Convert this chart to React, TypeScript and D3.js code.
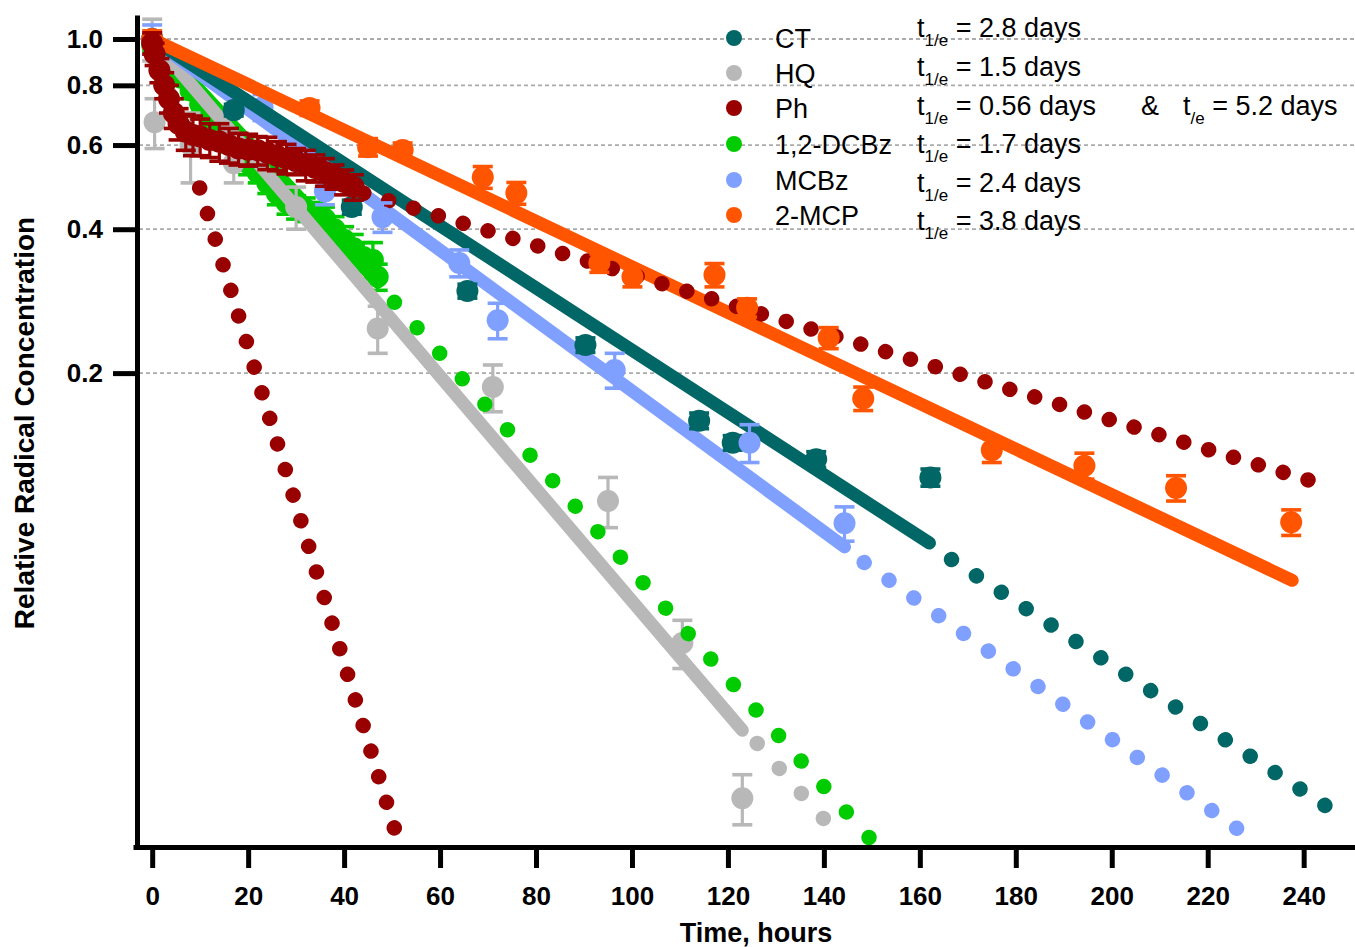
import React, { useEffect, useRef } from 'react';
import * as d3 from 'd3';

// measured points: [time h, relative conc, error]
const ctPoints = [
  [0, 1.0, 0.02], [17, 0.71, 0.02], [41.6, 0.445, 0.015], [65.7, 0.297, 0.01],
  [90.3, 0.229, 0.008], [114, 0.159, 0.006], [121, 0.143, 0.005],
  [138.4, 0.132, 0.005], [162.2, 0.121, 0.005],
];
const hqPoints = [
  [0, 1.0, 0.1], [0.5, 0.67, 0.08], [8, 0.6, 0.1], [17, 0.55, 0.05],
  [30, 0.445, 0.045], [47, 0.248, 0.028], [71, 0.187, 0.021],
  [95, 0.108, 0.013], [110.5, 0.0545, 0.0063], [123, 0.0258, 0.0031],
];
const phPoints = [
  [0, 0.98, 0.05], [0.5, 0.93, 0.05], [1.5, 0.86, 0.05], [2.5, 0.8, 0.05],
  [3.5, 0.75, 0.05], [4.5, 0.7, 0.05], [5.5, 0.665, 0.05], [7, 0.64, 0.055],
  [8.5, 0.63, 0.06], [10, 0.625, 0.055], [12, 0.615, 0.05], [14, 0.61, 0.055],
  [16, 0.6, 0.05], [18, 0.59, 0.045], [20, 0.587, 0.045], [22, 0.585, 0.04],
  [24, 0.578, 0.045], [26, 0.57, 0.04], [28, 0.562, 0.04], [30, 0.555, 0.035],
  [32, 0.545, 0.04], [34, 0.537, 0.035], [36, 0.527, 0.035], [38, 0.515, 0.03],
  [40, 0.502, 0.03], [42, 0.49, 0.03],
];
const dcbzPoints = [
  [0, 0.97, 0.03], [2, 0.93, 0.03], [4, 0.88, 0.03], [6, 0.83, 0.03],
  [8, 0.78, 0.03], [10, 0.73, 0.03], [12, 0.68, 0.03], [14, 0.645, 0.03],
  [16, 0.61, 0.03], [18, 0.58, 0.03], [20, 0.55, 0.03], [22, 0.525, 0.025],
  [24, 0.5, 0.025], [26, 0.475, 0.025], [28, 0.455, 0.025], [30, 0.445, 0.025],
  [32, 0.44, 0.025], [34, 0.43, 0.025], [36, 0.42, 0.025], [38, 0.4, 0.025],
  [40, 0.38, 0.025], [42, 0.365, 0.025], [44, 0.35, 0.025], [46, 0.345, 0.03],
  [47, 0.318, 0.02],
];
const mcbzPoints = [
  [0, 1.0, 0.07], [23, 0.72, 0.045], [36, 0.48, 0.03], [48, 0.424, 0.03],
  [64, 0.34, 0.022], [72, 0.258, 0.022], [96.4, 0.203, 0.017],
  [124.5, 0.143, 0.013], [144.3, 0.097, 0.008],
];
const mcpPoints = [
  [0, 1.0, 0.04], [32.8, 0.717, 0.025], [45, 0.594, 0.025], [52.2, 0.586, 0.02],
  [68.9, 0.514, 0.027], [75.9, 0.476, 0.025], [93.2, 0.34, 0.015],
  [100.1, 0.318, 0.015], [117.2, 0.321, 0.018], [124, 0.274, 0.012],
  [141, 0.237, 0.012], [148.2, 0.177, 0.01], [175, 0.138, 0.008],
  [194.3, 0.128, 0.008], [213.4, 0.115, 0.007], [237.4, 0.0975, 0.006],
];

// fitted decays (solid) and their extrapolations (dotted): [t, C] end points
const ctFit = [[0, 1.0], [162, 0.0882]];
const hqFit = [[0, 1.0], [123, 0.0358]];
const dcbzFit = [[0, 1.0], [47, 0.31]];
const mcbzFit = [[0, 1.0], [144.3, 0.0866]];
const mcpFit = [[0, 1.0], [237.6, 0.0737]];

const ctExtrap = [[166.6, 0.0815], [244.5, 0.0249]];
const hqExtrap = [[126.1, 0.0336], [139.9, 0.0234]];
const dcbzExtrap = [[50.5, 0.2813], [149.5, 0.0213]];
const mcbzExtrap = [[148.4, 0.0803], [226.1, 0.0223]];
const phFast = [[9.9, 0.488], [50.5, 0.0223]];
const phSlow = [[44.1, 0.476], [241.1, 0.1194]];
// number of dots drawn along each dotted curve
const dotCounts = { ct: 16, hq: 4, dcbz: 22, mcbz: 16, phFast: 26, phSlow: 39 };

const seriesNames = ['CT', 'HQ', 'Ph', '1,2-DCBz', 'MCBz', '2-MCP'];
const seriesColors = ['#006666', '#b8b8b8', '#990000', '#00cc00', '#80a0ff', '#ff5500'];
const halfLives = ['2.8', '1.5', '0.56', '1.7', '2.4', '3.8'];
const phSlowHalfLife = '5.2';

const xTicks = [0, 20, 40, 60, 80, 100, 120, 140, 160, 180, 200, 220, 240];
const yTicks = [0.2, 0.4, 0.6, 0.8, 1.0];

const W = 1355;
const H = 947;
const FONT = '"Liberation Sans", Arial, Helvetica, sans-serif';

const x = d3.scaleLinear().domain([-4, 250.7]).range([133, 1355]);
const y = d3.scaleLog().domain([0.0204, 1.1226]).range([847, 15]);

const col = (name) => seriesColors[seriesNames.indexOf(name)];

const Solid = ({ seg, color }) => (
  <line
    x1={x(seg[0][0])} y1={y(seg[0][1])} x2={x(seg[1][0])} y2={y(seg[1][1])}
    stroke={color} strokeWidth={13} strokeLinecap="round"
  />
);

const Dotted = ({ seg, color, count }) => {
  const x1 = x(seg[0][0]), y1 = y(seg[0][1]), x2 = x(seg[1][0]), y2 = y(seg[1][1]);
  const len = Math.hypot(x2 - x1, y2 - y1);
  const gap = (len / (count - 1)) * 0.999;
  return (
    <line
      x1={x1} y1={y1} x2={x2} y2={y2} stroke={color} strokeWidth={15.5}
      strokeLinecap="round" strokeDasharray={`0.01 ${gap - 0.01}`}
    />
  );
};

const Points = ({ data, color }) => (
  <g>
    {data.map((d, i) => {
      const cx = x(d[0]);
      const top = y(d[1] + d[2]);
      const bot = y(Math.max(d[1] - d[2], 0.001));
      return (
        <g key={i} stroke={color} strokeWidth={3.2}>
          <line x1={cx} x2={cx} y1={top} y2={bot} />
          <line x1={cx - 10} x2={cx + 10} y1={top} y2={top} strokeWidth={3.6} />
          <line x1={cx - 10} x2={cx + 10} y1={bot} y2={bot} strokeWidth={3.6} />
          <circle cx={cx} cy={y(d[1])} r={11} fill={color} stroke="none" />
        </g>
      );
    })}
  </g>
);

const App = () => {
  const xAxisRef = useRef(null);
  const yAxisRef = useRef(null);

  useEffect(() => {
    const xa = d3.select(xAxisRef.current)
      .call(d3.axisBottom(x).tickValues(xTicks).tickSize(21).tickPadding(19).tickSizeOuter(0));
    xa.select('.domain').attr('stroke-width', 5);
    xa.selectAll('.tick line').attr('stroke-width', 5);
    xa.selectAll('.tick text')
      .attr('font-family', FONT).attr('font-size', 26).attr('font-weight', 'bold').attr('fill', '#000');

    const ya = d3.select(yAxisRef.current)
      .call(d3.axisLeft(y).tickValues(yTicks).tickFormat(d3.format('.1f'))
        .tickSize(24).tickPadding(10).tickSizeOuter(0));
    ya.select('.domain').attr('stroke-width', 5);
    ya.selectAll('.tick line').attr('stroke-width', 5);
    ya.selectAll('.tick text')
      .attr('font-family', FONT).attr('font-size', 26).attr('font-weight', 'bold').attr('fill', '#000');
  }, []);

  const legendY = [38, 73, 108, 144, 180, 215];
  const halfY = [37, 76, 115, 153, 192, 230];

  return (
    <svg width={W} height={H} style={{ position: 'absolute', left: 0, top: 0, background: '#fff' }}>
      {/* grid */}
      <g stroke="#aaaaaa" strokeWidth={1.8} strokeDasharray="4 3">
        {yTicks.map((t) => (
          <line key={t} x1={139} x2={W} y1={y(t)} y2={y(t)} />
        ))}
      </g>

      {/* 1,2-DCBz and HQ */}
      <Solid seg={dcbzFit} color={col('1,2-DCBz')} />
      <Points data={dcbzPoints} color={col('1,2-DCBz')} />
      <Solid seg={hqFit} color={col('HQ')} />
      <Points data={hqPoints} color={col('HQ')} />

      {/* extrapolations */}
      <Dotted seg={hqExtrap} color={col('HQ')} count={dotCounts.hq} />
      <Dotted seg={dcbzExtrap} color={col('1,2-DCBz')} count={dotCounts.dcbz} />
      <Dotted seg={ctExtrap} color={col('CT')} count={dotCounts.ct} />
      <Dotted seg={mcbzExtrap} color={col('MCBz')} count={dotCounts.mcbz} />

      <Points data={mcbzPoints.slice(0, 2)} color={col('MCBz')} />
      <Solid seg={mcbzFit} color={col('MCBz')} />
      <Solid seg={ctFit} color={col('CT')} />
      <Solid seg={mcpFit} color={col('2-MCP')} />

      <Dotted seg={phFast} color={col('Ph')} count={dotCounts.phFast} />
      <Dotted seg={phSlow} color={col('Ph')} count={dotCounts.phSlow} />

      <Points data={ctPoints} color={col('CT')} />
      <Points data={mcbzPoints.slice(2)} color={col('MCBz')} />
      <Points data={mcpPoints} color={col('2-MCP')} />
      <Points data={phPoints} color={col('Ph')} />

      {/* axes */}
      <g ref={xAxisRef} transform={`translate(0,${847})`} />
      <g ref={yAxisRef} transform={`translate(${137},0)`} />

      <text x={756} y={942} textAnchor="middle" fontFamily={FONT} fontSize={27} fontWeight="bold">
        Time, hours
      </text>
      <text
        transform="translate(34,423) rotate(-90)" textAnchor="middle"
        fontFamily={FONT} fontSize={28} fontWeight="bold"
      >
        Relative Radical Concentration
      </text>

      {/* legend */}
      <g fontFamily={FONT} fontSize={27}>
        {seriesNames.map((n, i) => (
          <g key={n}>
            <circle cx={734} cy={legendY[i]} r={8} fill={seriesColors[i]} />
            <text x={775} y={legendY[i] + 10}>{n}</text>
          </g>
        ))}
        {halfLives.map((h, i) => (
          <text key={h} x={917} y={halfY[i]}>
            t<tspan fontSize={17} dy={9}>1/e</tspan>
            <tspan dy={-9}>{` = ${h} days`}</tspan>
          </text>
        ))}
        <text x={1141} y={halfY[2]}>&amp;</text>
        <text x={1183} y={halfY[2]}>
          t<tspan fontSize={17} dy={9}>/e</tspan>
          <tspan dy={-9}>{` = ${phSlowHalfLife} days`}</tspan>
        </text>
      </g>
    </svg>
  );
};

export default App;
